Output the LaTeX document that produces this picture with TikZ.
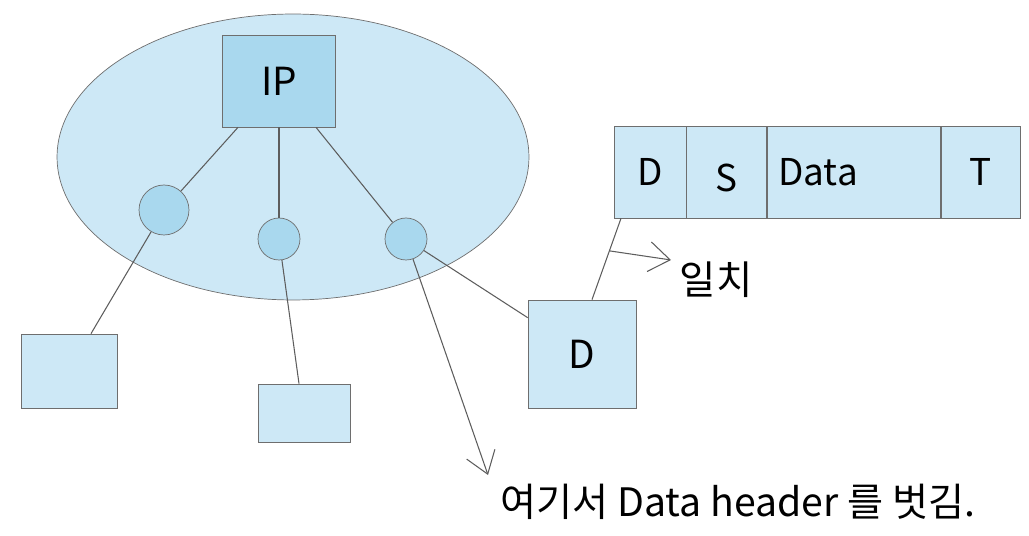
\documentclass[tikz,border=0pt]{standalone}
\usepackage{fontspec}
\setmainfont{Noto Sans CJK KR}
\usepackage{tikz}
\usepackage{xcolor}
\usetikzlibrary{arrows.meta}
\usetikzlibrary{positioning}
\usetikzlibrary{shapes.geometric}
\definecolor{lightsky}{HTML}{CDE8F6}
\definecolor{sky}{HTML}{A9D8EE}
\definecolor{rim}{HTML}{6E6E6E}
\tikzstyle{net}=[ellipse, draw=rim, fill=lightsky, inner sep=0pt, minimum width=9.44cm, minimum height=5.72cm]
\tikzstyle{router}=[rectangle, draw=rim, fill=sky, minimum width=2.26cm, minimum height=1.84cm, font=\fontsize{22}{26}\selectfont]
\tikzstyle{port}=[circle, draw=rim, fill=sky, inner sep=0pt]
\tikzstyle{host}=[rectangle, draw=rim, fill=lightsky, inner sep=0pt]
\tikzstyle{field}=[rectangle, draw=rim, fill=lightsky, inner sep=0pt, minimum height=1.84cm, font=\fontsize{21}{25}\selectfont]
\tikzstyle{wire}=[draw=rim!85!black, line width=0.6pt]
\tikzset{>={Straight Barb[length=12pt,width=17pt]}}

\begin{document}
\begin{tikzpicture}[x=0.02cm, y=-0.02cm]
    \useasboundingbox (0,0) rectangle (1029,536);

    \draw node at (293,157) [net] (lan) {};
    \draw node at (279,81) [router] (ip) {IP};
    \draw node at (164,210) [port, minimum size=1cm] (p1) {};
    \draw node at (279,239) [port, minimum size=0.84cm] (p2) {};
    \draw node at (406,239) [port, minimum size=0.84cm] (p3) {};

    \draw node at (69,371) [host, minimum width=1.92cm, minimum height=1.48cm] (h1) {};
    \draw node at (304,413) [host, minimum width=1.84cm, minimum height=1.16cm] (h2) {};
    \draw node at (582,354) [host, minimum width=2.16cm, minimum height=2.16cm, font=\fontsize{22}{26}\selectfont] (dst) {D};

    \draw node at (650,172) [field, minimum width=1.44cm] (fd) {D};
    \draw node [field, minimum width=1.6cm, right=0pt of fd] (fs) {\raisebox{-3.4pt}[\height][\depth]{S}};
    \draw node [field, minimum width=3.46cm, right=0pt of fs, inner xsep=0.22cm, text width=3.02cm, align=left] (fdata) {Data};
    \draw node [field, minimum width=1.58cm, right=0pt of fdata] (ft) {T};

    \draw node at (716,280) [font=\fontsize{22.5}{26}\selectfont, inner sep=0pt] (match) {일치};
    \draw node at (500,502) [anchor=west, font=\fontsize{22.3}{26}\selectfont, inner sep=0pt] (note) {여기서 Data header 를 벗김.};
    \coordinate (matchend) at (671,260);
    \coordinate (noteend) at (488,475);

    \draw [wire] ([xshift=-0.82cm]ip.south) -- (p1);
    \draw [wire] (ip.south) -- (p2);
    \draw [wire] ([xshift=0.74cm]ip.south) -- (p3);
    \draw [wire] (p1) -- ([xshift=0.44cm]h1.north);
    \draw [wire] (p2) -- ([xshift=-0.1cm]h2.north);
    \draw [wire] (p3) -- ([yshift=-0.36cm]dst.north west);
    \draw [wire] ([xshift=0.2cm]dst.north) -- coordinate[pos=0.6] (hit) ([xshift=-0.58cm]fd.south);

    \draw [wire, ->] (hit) -- (matchend);
    \draw [wire, ->] (p3) -- (noteend);
\end{tikzpicture}
\end{document}
